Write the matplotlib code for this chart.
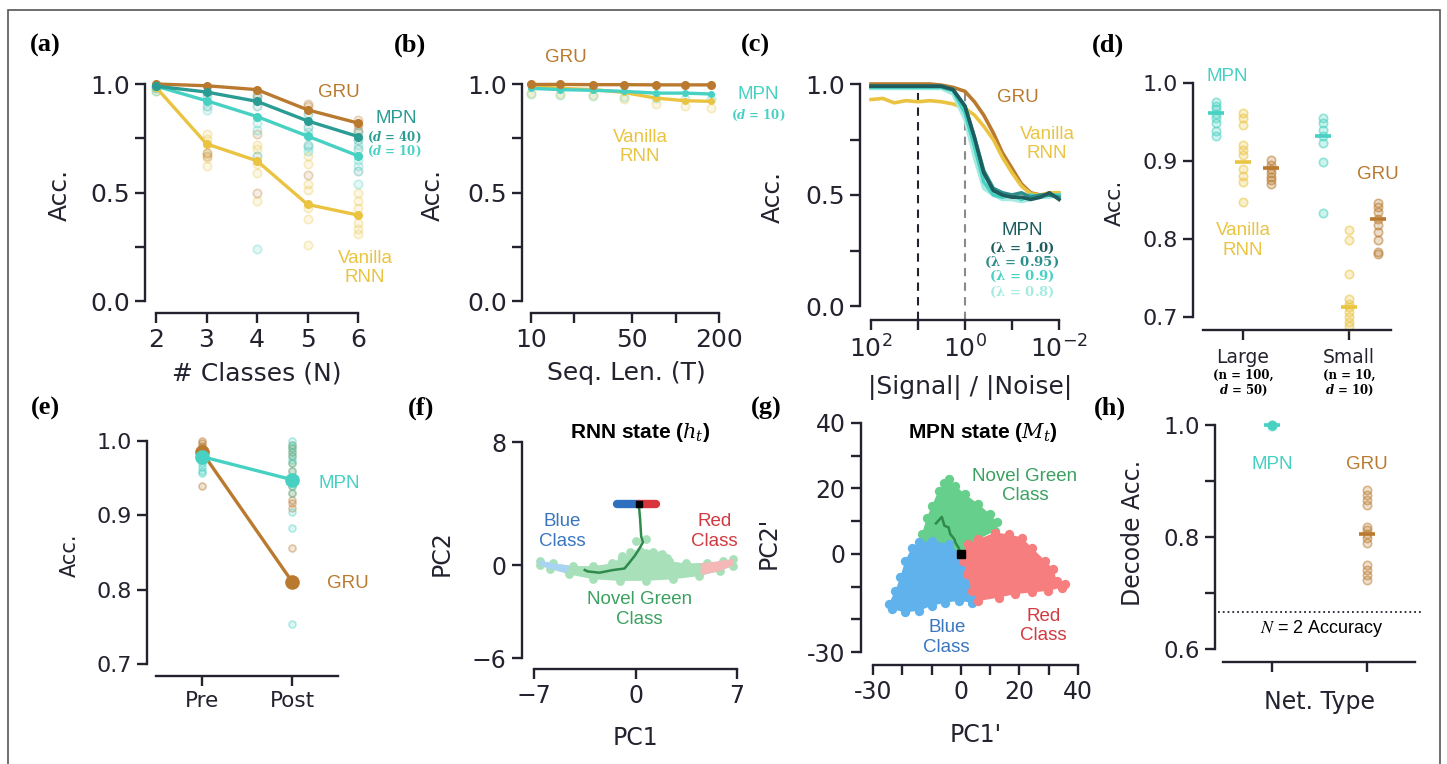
import matplotlib.pyplot as plt
from matplotlib.colors import to_rgba
from matplotlib.patches import Polygon, Rectangle
from matplotlib.ticker import NullLocator

W, H = 1447, 764

# colours
c_gru = "#b97a2f"
c_rnn = "#eac441"
c_mpn = "#46d1c2"
c_mpn40 = "#2a9c94"
c_l100, c_l095, c_l090, c_l080 = "#1e5c5e", "#2d8f8b", "#46d1c2", "#a6ebe1"
c_blue, c_red, c_green = "#60b2ec", "#f77e7e", "#66cf8c"
t_blue, t_red, t_green = "#3a76c0", "#d13a40", "#3ba160"
c_traj = "#2e8b4c"
ink = "#23232f"

# (a) accuracy vs number of classes
n_cls = [2, 3, 4, 5, 6]
gru_a = [1.0, 0.992, 0.974, 0.881, 0.82]
mpn40_a = [0.99, 0.963, 0.92, 0.83, 0.758]
mpn10_a = [0.99, 0.923, 0.85, 0.76, 0.669]
rnn_a = [0.985, 0.724, 0.646, 0.445, 0.396]
rnn_a_px = [2, 2, 3, 3, 3, 3, 3, 4, 4, 4, 4, 4, 5, 5, 5, 5, 5, 5, 5, 6, 6, 6, 6, 6, 6]
rnn_a_py = [0.97, 0.99, 0.77, 0.745, 0.68, 0.66, 0.62, 0.72, 0.70, 0.63, 0.59, 0.46,
            0.67, 0.63, 0.54, 0.51, 0.43, 0.38, 0.26, 0.5, 0.46, 0.43, 0.36, 0.33, 0.31]
gru_a_px = [2, 3, 3, 4, 4, 4, 5, 5, 5, 6, 6, 6]
gru_a_py = [0.99, 0.68, 0.67, 0.95, 0.77, 0.5, 0.91, 0.9, 0.58, 0.835, 0.81, 0.79]
mpn40_a_px = [2, 3, 3, 4, 4, 4, 5, 5, 5, 6, 6, 6, 6]
mpn40_a_py = [0.98, 0.95, 0.9, 0.94, 0.9, 0.67, 0.86, 0.8, 0.72, 0.78, 0.74, 0.7, 0.6]
mpn10_a_px = [2, 3, 4, 4, 4, 5, 5, 5, 6, 6, 6, 6]
mpn10_a_py = [0.97, 0.88, 0.82, 0.79, 0.24, 0.78, 0.71, 0.69, 0.72, 0.65, 0.62, 0.54]

# (b) accuracy vs sequence length
seq_len = [10, 16, 27, 44, 73, 116, 175]
gru_b = [0.998, 0.998, 0.997, 0.997, 0.996, 0.996, 0.996]
mpn_b = [0.98, 0.974, 0.971, 0.966, 0.958, 0.958, 0.954]
rnn_b = [0.989, 0.98, 0.974, 0.961, 0.935, 0.923, 0.92]
mpn_b_pts = [0.955, 0.95, 0.945, 0.94, 0.935, 0.93, 0.93]
rnn_b_pts = [0.96, 0.955, 0.95, 0.93, 0.91, 0.9, 0.89]

# (c) accuracy vs signal / noise
snr = [100, 56, 32, 18, 10, 5.6, 3.2, 1.8, 1.0, 0.63, 0.4, 0.25, 0.16, 0.1,
       0.063, 0.04, 0.025, 0.016, 0.01]
gru_c = [1.0, 1.0, 1.0, 1.0, 1.0, 1.0, 0.995, 0.985, 0.967, 0.92, 0.86, 0.78,
         0.69, 0.62, 0.55, 0.51, 0.5, 0.505, 0.5]
rnn_c = [0.93, 0.935, 0.915, 0.925, 0.92, 0.925, 0.92, 0.91, 0.89, 0.86, 0.81,
         0.75, 0.67, 0.6, 0.54, 0.505, 0.5, 0.51, 0.51]
mpn_c_100 = [0.99, 0.99, 0.99, 0.99, 0.99, 0.99, 0.99, 0.975, 0.9, 0.76, 0.6,
             0.52, 0.5, 0.49, 0.49, 0.48, 0.49, 0.51, 0.48]
mpn_c_095 = [0.99, 0.99, 0.99, 0.99, 0.99, 0.99, 0.99, 0.975, 0.9, 0.76, 0.61,
             0.53, 0.51, 0.5, 0.51, 0.49, 0.5, 0.5, 0.49]
mpn_c_090 = [0.985, 0.985, 0.985, 0.985, 0.985, 0.985, 0.985, 0.97, 0.87, 0.72,
             0.56, 0.5, 0.49, 0.5, 0.48, 0.5, 0.49, 0.5, 0.5]
mpn_c_080 = [0.98, 0.98, 0.98, 0.98, 0.98, 0.98, 0.98, 0.955, 0.84, 0.67, 0.53,
             0.5, 0.48, 0.48, 0.47, 0.48, 0.49, 0.49, 0.5]

# (d) network size
mpn_d_large = [0.975, 0.97, 0.966, 0.96, 0.955, 0.949, 0.938, 0.932]
rnn_d_large = [0.962, 0.955, 0.946, 0.921, 0.914, 0.908, 0.889, 0.881, 0.873, 0.847]
gru_d_large = [0.901, 0.895, 0.89, 0.885, 0.88, 0.875, 0.87]
mpn_d_small = [0.955, 0.949, 0.94, 0.932, 0.923, 0.899, 0.833]
rnn_d_small = [0.811, 0.798, 0.755, 0.723, 0.717, 0.712, 0.706, 0.7, 0.693, 0.688]
gru_d_small = [0.846, 0.841, 0.835, 0.826, 0.818, 0.809, 0.799, 0.783, 0.78]
mpn_d_mean = [0.962, 0.932]
rnn_d_mean = [0.899, 0.713]
gru_d_mean = [0.891, 0.826]

# (e) pre / post
mpn_e_mean = [0.979, 0.948]
gru_e_mean = [0.985, 0.811]
mpn_e_pre = [0.975, 0.97, 0.965, 0.96, 0.957, 0.98]
gru_e_pre = [1.0, 0.997, 0.993, 0.99, 0.985, 0.94]
mpn_e_post = [1.0, 0.995, 0.99, 0.985, 0.98, 0.975, 0.97, 0.96, 0.95, 0.94,
              0.93, 0.905, 0.883, 0.754]
gru_e_post = [0.995, 0.99, 0.985, 0.98, 0.97, 0.96, 0.95, 0.94, 0.93, 0.92,
              0.916, 0.91, 0.856]

# (f) RNN state cloud outline and trajectory
band_x = [-6.6, -5.7, -4.3, -2.9, -1.6, -0.9, -0.2, 0.7, 1.7, 2.3, 3.5, 4.9, 6.0, 6.7,
          6.7, 5.8, 4.4, 2.6, 0.7, -1.1, -2.9, -4.6, -5.9, -6.6]
band_y = [0.28, 0.13, -0.04, -0.04, 0.13, 0.6, 0.77, 0.8, 0.7, 0.28, 0.13, 0.17, 0.28, 0.39,
          -0.04, -0.37, -0.69, -0.9, -1.0, -1.0, -0.9, -0.58, -0.22, 0.0]
fblue_x = [-6.7, -5.6, -4.6, -4.7, -5.9, -6.65]
fblue_y = [0.35, 0.12, 0.0, -0.5, -0.22, 0.0]
fred_x = [4.5, 5.6, 6.75, 6.75, 5.8, 4.5]
fred_y = [0.15, 0.25, 0.42, 0.0, -0.37, -0.62]
bump_x = [0.0, 0.75, -0.4, 0.3, 1.2, 1.8, -0.9, 2.2]
bump_y = [1.6, 1.7, 0.85, 0.95, 0.9, 0.75, 0.55, 0.5]
traj_f_x = [0.23, 0.32, 0.39, 0.51, 0.23, -0.07, -0.53, -0.76, -1.56, -2.48, -3.29, -3.5]
traj_f_y = [3.94, 2.97, 1.89, 1.5, 1.03, 0.6, 0.06, -0.2, -0.3, -0.47, -0.39, -0.3]
bar_f_blue = [-1.29, 0.23]
bar_f_red = [0.23, 1.43]
bar_f_y = 3.98

# (g) MPN state clouds and trajectory
g_green_x = [-4.0, -1.9, 1.5, 6.0, 10.0, 12.3, 11.7, 6.0, 1.5, 0.0, -3.1, -7.6, -12.7,
             -13.3, -11.6, -9.9, -7.6, -5.9]
g_green_y = [22.8, 20.8, 18.2, 15.2, 12.1, 9.6, 7.0, 4.5, 0.9, 0.0, 1.9, 3.5, 4.0,
             6.0, 11.1, 14.7, 19.3, 21.8]
g_blue_x = [-14.4, -9.9, -4.2, 0.0, 1.5, 3.2, 4.9, 3.8, -0.8, -5.3, -9.9, -14.4, -19.0,
            -23.5, -24.7, -22.4, -20.7, -19.0, -16.7]
g_blue_y = [3.5, 4.0, 3.0, 0.0, -3.2, -8.3, -13.4, -14.9, -14.4, -14.9, -15.9, -17.4,
            -17.9, -16.9, -15.4, -11.3, -7.2, -2.1, 1.9]
g_red_x = [0.0, 2.6, 6.0, 11.7, 16.3, 20.8, 24.2, 28.8, 31.6, 32.8, 35.6, 34.5, 29.9,
           24.2, 18.5, 12.9, 6.0, 3.8, 2.0, 0.9]
g_red_y = [0.0, 3.0, 4.5, 6.5, 6.0, 5.0, 1.9, -2.1, -4.7, -8.3, -9.3, -10.3, -11.3,
           -11.8, -12.3, -13.4, -14.4, -11.3, -6.2, -2.1]
traj_g_x = [-8.5, -6.5, -5.6, -4.2, -3.6, -2.2, -1.9, -0.8, 0.0]
traj_g_y = [9.3, 11.3, 8.6, 8.1, 6.0, 4.5, 3.5, 1.9, 0.0]

# (h) decoding accuracy
mpn_h = [1.0, 1.0, 0.999]
gru_h = [0.884, 0.875, 0.866, 0.857, 0.819, 0.813, 0.806, 0.798, 0.789, 0.75,
         0.742, 0.733, 0.724]
mpn_h_mean = 1.0
gru_h_mean = 0.806
chance_h = 0.667

fig = plt.figure(figsize=(W / 100, H / 100), dpi=100)
ann = dict(family="Liberation Sans", fontsize=13.5, ha="center", va="center")


def px_ax(l, t, r, b):
    return fig.add_axes([l / W, 1 - b / H, (r - l) / W, (b - t) / H])


def ptext(x, y, s, **kw):
    kw.setdefault("ha", "center")
    kw.setdefault("va", "center")
    fig.text(x / W, 1 - y / H, s, **kw)


def style(ax, lo, bo, size=18):
    ax.spines[["top", "right"]].set_visible(False)
    ax.spines["left"].set_position(("outward", lo * 0.72))
    ax.spines["bottom"].set_position(("outward", bo * 0.72))
    for s in ["left", "bottom"]:
        ax.spines[s].set_linewidth(1.7)
        ax.spines[s].set_color(ink)
    ax.tick_params(length=7, width=1.7, color=ink, labelsize=size,
                   labelcolor=ink, pad=4)
    ax.patch.set_alpha(0)


def rings(ax, x, y, c, ms=6, a=0.3):
    ax.plot(x, y, "o", ms=ms, mfc=to_rgba(c, a * 0.45), mec=to_rgba(c, a),
            mew=1.2, ls="none", clip_on=False)


acc_ticks = [0, 0.25, 0.5, 0.75, 1.0]
acc_labels = ["0.0", "", "0.5", "", "1.0"]
serif_math = dict(math_fontfamily="dejavuserif", family="DejaVu Serif",
                  fontweight="bold", fontsize=8.5, ha="center", va="center")

# ---- (a)
ax = px_ax(156, 84, 358, 301)
style(ax, 11, 12)
ax.set_xlim(2, 6)
ax.set_ylim(0, 1)
rings(ax, rnn_a_px, rnn_a_py, c_rnn)
rings(ax, gru_a_px, gru_a_py, c_gru)
rings(ax, mpn40_a_px, mpn40_a_py, c_mpn40)
rings(ax, mpn10_a_px, mpn10_a_py, c_mpn)
for y, c in [(gru_a, c_gru), (rnn_a, c_rnn), (mpn10_a, c_mpn), (mpn40_a, c_mpn40)]:
    ax.plot(n_cls, y, "-o", color=c, lw=2.4, ms=5.5, clip_on=False)
ax.set_xticks(n_cls)
ax.set_yticks(acc_ticks, acc_labels)
ax.spines["left"].set_bounds(0, 1)
ax.spines["bottom"].set_bounds(2, 6)
ax.text(5.63, 0.963, "GRU", color=c_gru, **ann)
ax.text(6.75, 0.843, "MPN", color=c_mpn40, **ann)
ax.text(6.72, 0.752, r"($\boldsymbol{d}$ = 40)", color=c_mpn40, **serif_math)
ax.text(6.72, 0.687, r"($\boldsymbol{d}$ = 10)", color=c_mpn, **serif_math)
ax.text(6.14, 0.152, "Vanilla\nRNN", color=c_rnn, **ann)
ptext(60, 195, "Acc.", rotation=90, fontsize=18, color=ink)
ptext(257, 373, "# Classes (N)", fontsize=18, color=ink)

# ---- (b)
ax = px_ax(531, 84, 719, 301)
style(ax, 9, 12)
ax.set_xscale("log")
ax.set_xlim(10, 200)
ax.set_ylim(0, 1)
rings(ax, seq_len, mpn_b_pts, c_mpn)
rings(ax, seq_len, rnn_b_pts, c_rnn)
for y, c, m in [(rnn_b, c_rnn, 4), (mpn_b, c_mpn, 4), (gru_b, c_gru, 5.5)]:
    ax.plot(seq_len, y, "-o", color=c, lw=2.4, ms=m, clip_on=False)
ax.set_xticks([10, 20, 50, 100, 200], ["10", "", "50", "", "200"])
ax.xaxis.set_minor_locator(NullLocator())
ax.set_yticks(acc_ticks, acc_labels)
ax.spines["left"].set_bounds(0, 1)
ax.spines["bottom"].set_bounds(10, 200)
ax.text(17.4, 1.12, "GRU", color=c_gru, **ann)
ax.text(375, 0.95, "MPN", color=c_mpn, **ann)
ax.text(375, 0.857, r"($\boldsymbol{d}$ = 10)", color=c_mpn, **serif_math)
ax.text(56.8, 0.71, "Vanilla\nRNN", color=c_rnn, **ann)
ptext(433, 195, "Acc.", rotation=90, fontsize=18, color=ink)
ptext(626, 373, "Seq. Len. (T)", fontsize=18, color=ink)

# ---- (c)
ax = px_ax(871, 84, 1059, 306)
style(ax, 11, 14)
ax.set_xscale("log")
ax.set_xlim(100, 0.01)
ax.set_ylim(0, 1)
ax.plot([10, 10], [-0.063, 1.0], ls=(0, (4, 3)), color=ink, lw=1.5, clip_on=False)
ax.plot([1, 1], [-0.063, 0.97], ls=(0, (4, 3)), color="#8a8a8a", lw=1.5, clip_on=False)
for y, c in [(gru_c, c_gru), (rnn_c, c_rnn), (mpn_c_080, c_l080), (mpn_c_090, c_l090),
             (mpn_c_095, c_l095), (mpn_c_100, c_l100)]:
    ax.plot(snr, y, "-", color=c, lw=2.6, clip_on=False)
ax.set_xticks([100, 10, 1, 0.1, 0.01],
              [r"$10^{2}$", "", r"$10^{0}$", "", r"$10^{-2}$"])
ax.xaxis.set_minor_locator(NullLocator())
ax.set_yticks(acc_ticks, acc_labels)
ax.spines["left"].set_bounds(0, 1)
ax.spines["bottom"].set_bounds(0.01, 100)
ax.text(0.0745, 0.937, "GRU", color=c_gru, **ann)
ax.text(0.018, 0.73, "Vanilla\nRNN", color=c_rnn, **ann)
ax.text(0.0612, 0.342, "MPN", color=c_l100, **ann)
for yy, lab, c in [(0.261, "1.0", c_l100), (0.198, "0.95", c_l095),
                   (0.131, "0.9", c_l090), (0.063, "0.8", c_l080)]:
    ax.text(0.0612, yy, r"($\boldsymbol{\lambda}$ = %s)" % lab, color=c,
            **dict(serif_math, fontsize=9.5))
ptext(773, 197, "Acc.", rotation=90, fontsize=18, color=ink)
ptext(970, 387, "|Signal| / |Noise|", fontsize=18, color=ink)

# ---- (d)
ax = px_ax(1203, 83, 1391, 330)
style(ax, 10, 0, size=16)
ax.set_xlim(-0.377, 1.396)
ax.set_ylim(0.683, 1.0)
for xs, pts, c in [(-0.25, mpn_d_large, c_mpn), (0.0, rnn_d_large, c_rnn),
                   (0.26, gru_d_large, c_gru), (0.75, mpn_d_small, c_mpn),
                   (1.0, rnn_d_small, c_rnn), (1.27, gru_d_small, c_gru)]:
    rings(ax, [xs] * len(pts), pts, c, ms=6, a=0.55)
for xs, m, c in [([-0.25, 0.75], mpn_d_mean, c_mpn), ([0.0, 1.0], rnn_d_mean, c_rnn),
                 ([0.26, 1.27], gru_d_mean, c_gru)]:
    ax.plot(xs, m, "_", color=c, ms=11, mew=2.6, ls="none", clip_on=False)
ax.spines["left"].set_bounds(0.7, 1.0)
ax.set_yticks([0.7, 0.8, 0.9, 1.0])
ax.set_xticks([0, 1], ["Large", "Small"], fontsize=13.5)
ax.tick_params(axis="x", pad=6)
ax.text(-0.15, 1.008, "MPN", color=c_mpn, **ann)
ax.text(0.0, 0.798, "Vanilla\nRNN", color=c_rnn, **ann)
ax.text(1.27, 0.882, "GRU", color=c_gru, **ann)
ptext(1243, 375, "(n = 100,", **serif_math)
ptext(1243, 390, r"$\boldsymbol{d}$ = 50)", **serif_math)
ptext(1349, 375, "(n = 10,", **serif_math)
ptext(1349, 390, r"$\boldsymbol{d}$ = 10)", **serif_math)
ptext(1115, 203, "Acc.", rotation=90, fontsize=16, color=ink)

# ---- (e)
ax = px_ax(156, 441, 338, 676)
style(ax, 9, 0, size=16)
ax.set_xlim(-0.511, 1.511)
ax.set_ylim(0.684, 1.0)
rings(ax, [0] * len(gru_e_pre), gru_e_pre, c_gru, ms=5, a=0.45)
rings(ax, [0] * len(mpn_e_pre), mpn_e_pre, c_mpn, ms=5, a=0.45)
rings(ax, [1] * len(gru_e_post), gru_e_post, c_gru, ms=5, a=0.4)
rings(ax, [1] * len(mpn_e_post), mpn_e_post, c_mpn, ms=5, a=0.4)
ax.plot([0, 1], gru_e_mean, "-o", color=c_gru, lw=2.4, ms=9.5, clip_on=False)
ax.plot([0, 1], mpn_e_mean, "-o", color=c_mpn, lw=2.4, ms=9.5, clip_on=False)
ax.spines["left"].set_bounds(0.7, 1.0)
ax.set_yticks([0.7, 0.8, 0.9, 1.0])
ax.set_xticks([0, 1], ["Pre", "Post"], fontsize=15.5)
ax.text(1.53, 0.943, "MPN", color=c_mpn, **ann)
ax.text(1.62, 0.809, "GRU", color=c_gru, **ann)
ptext(70, 555, "Acc.", rotation=90, fontsize=15, color=ink)

# ---- (f)
ax = px_ax(534, 442, 737, 658)
style(ax, 12, 11, size=17)
ax.set_xlim(-7, 7)
ax.set_ylim(-6, 8)
ax.add_patch(Polygon(list(zip(band_x, band_y)), closed=True, fc="#a7e0b9", ec="none"))
ax.scatter(band_x, band_y, s=40, color="#a7e0b9", lw=0)
ax.scatter(bump_x, bump_y, s=40, color="#a7e0b9", lw=0)
ax.add_patch(Polygon(list(zip(fblue_x, fblue_y)), closed=True, fc="#a9d3f2", ec="none"))
ax.add_patch(Polygon(list(zip(fred_x, fred_y)), closed=True, fc="#f6b7b7", ec="none"))
ax.plot(traj_f_x, traj_f_y, "-", color=c_traj, lw=1.8)
ax.plot(bar_f_blue, [bar_f_y] * 2, "-", color="#2f6fbf", lw=6, solid_capstyle="round")
ax.plot(bar_f_red, [bar_f_y] * 2, "-", color="#d6363c", lw=6, solid_capstyle="round")
ax.plot([traj_f_x[0]], [bar_f_y], "s", color="black", ms=5)
ax.set_xticks([-7, 0, 7])
ax.set_yticks([-6, 0, 8])
ax.text(-5.05, 2.21, "Blue\nClass", color=t_blue, **ann)
ax.text(5.45, 2.21, "Red\nClass", color=t_red, **ann)
ax.text(0.28, -2.84, "Novel Green\nClass", color=t_green, **ann)
ptext(640, 432, r"RNN state ($\boldsymbol{h_t}$)", family="Liberation Sans",
      fontweight="bold", fontsize=15, math_fontfamily="dejavuserif", color="black")
ptext(442, 553, "PC2", rotation=90, fontsize=17, color=ink)
ptext(635, 738, "PC1", fontsize=17, color=ink)

# ---- (g)
ax = px_ax(873, 423, 1078, 652)
style(ax, 12, 13, size=17)
ax.set_xlim(-30, 40)
ax.set_ylim(-30, 40)
for xs, ys, c in [(g_green_x, g_green_y, c_green), (g_blue_x, g_blue_y, c_blue),
                  (g_red_x, g_red_y, c_red)]:
    ax.add_patch(Polygon(list(zip(xs, ys)), closed=True, fc=c, ec="none"))
    ax.scatter(xs, ys, s=45, color=c, lw=0)
ax.plot(traj_g_x, traj_g_y, "-", color=c_traj, lw=1.8)
ax.plot([0], [0], "s", color="black", ms=6)
gt = [-30, -20, -10, 0, 10, 20, 30, 40]
gl = ["-30", "", "", "0", "", "20", "", "40"]
ax.set_xticks(gt, gl)
ax.set_yticks(gt, gl)
ax.text(21.9, 20.8, "Novel Green\nClass", color=t_green, **ann)
ax.text(-4.8, -25.6, "Blue\nClass", color=t_blue, **ann)
ax.text(28.2, -22.0, "Red\nClass", color=t_red, **ann)
ptext(983, 432, r"MPN state ($\boldsymbol{M_t}$)", family="Liberation Sans",
      fontweight="bold", fontsize=15, math_fontfamily="dejavuserif", color="black")
ptext(769, 543, "PC2'", rotation=90, fontsize=17, color=ink)
ptext(976, 735, "PC1'", fontsize=17, color=ink)

# ---- (h)
ax = px_ax(1223, 425, 1415, 661.7)
style(ax, 8, 0, size=16.5)
ax.set_xlim(-0.516, 1.505)
ax.set_ylim(0.578, 1.0)
ax.plot([-0.568, 1.59], [chance_h] * 2, ":", color=ink, lw=1.3, clip_on=False)
rings(ax, [0] * len(mpn_h), mpn_h, c_mpn, ms=6, a=0.6)
rings(ax, [1] * len(gru_h), gru_h, c_gru, ms=6, a=0.5)
ax.plot([0], [mpn_h_mean], "o", color=c_mpn, ms=5, clip_on=False)
ax.plot([0], [mpn_h_mean], "_", color=c_mpn, ms=11, mew=2.6, clip_on=False)
ax.plot([1], [gru_h_mean], "_", color=c_gru, ms=11, mew=2.6, clip_on=False)
ax.spines["left"].set_bounds(0.6, 1.0)
ax.set_yticks([0.6, 0.7, 0.8, 0.9, 1.0], ["0.6", "", "0.8", "", "1.0"])
ax.set_xticks([0, 1], ["", ""])
ax.text(0, 0.929, "MPN", color=c_mpn, **ann)
ax.text(1, 0.929, "GRU", color=c_gru, **ann)
ax.text(0.523, 0.638, r"$N$ = 2 Accuracy", color="black", fontsize=13,
        family="Liberation Sans", math_fontfamily="stix", ha="center", va="center")
ptext(1133, 533, "Decode Acc.", rotation=90, fontsize=17, color=ink)
ptext(1319, 702, "Net. Type", fontsize=17, color=ink)

# panel letters
for lab, x, y in [("(a)", 45, 45), ("(b)", 410, 45), ("(c)", 755, 45), ("(d)", 1108, 45),
                  ("(e)", 45, 408), ("(f)", 421, 408), ("(g)", 766, 408), ("(h)", 1110, 408)]:
    ptext(x, y, lab, family="Liberation Serif", fontweight="bold", fontsize=19, color="black")

fig.patches.append(Rectangle((8 / W, -0.05), (1440 - 8) / W, 1 - 10 / H + 0.05,
                             transform=fig.transFigure, fill=False, ec="#555555", lw=1.2))

fig.savefig("out.png", dpi=100)
